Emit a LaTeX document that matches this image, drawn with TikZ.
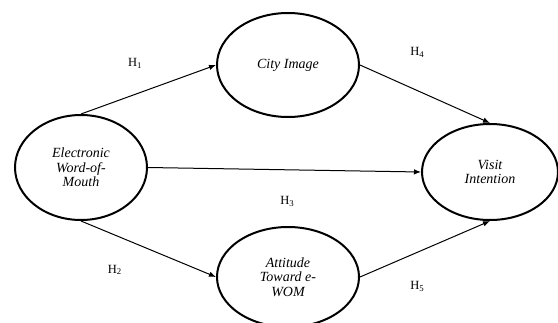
\documentclass[tikz,border=0pt]{standalone}
\usepackage{fontspec}
\setmainfont{Liberation Serif}
\usetikzlibrary{shapes.geometric,arrows.meta,positioning}

\begin{document}
\begin{tikzpicture}[x=1pt,y=-1pt,
        latent/.style = {
            draw,
            ellipse,
            line width=2pt,
            inner sep=0pt,
            align=center,
            font=\fontsize{14}{14.5}\selectfont\itshape
        },
        hlabel/.style = {font=\fontsize{12.5}{14}\selectfont},
        path/.style = {-{Latex[length=7pt,width=5.5pt]}, line width=1pt}]

        \useasboundingbox (0,0) rectangle (558,322);

        \node[latent, minimum width=132pt, minimum height=105pt] (ewom) at (81,167.5) {Electronic\\Word-of-\\Mouth};
        \node[latent, minimum width=142pt, minimum height=104pt] (city) at (288,65) {City Image};
        \node[latent, minimum width=142pt, minimum height=100pt] (att) at (288,277) {Attitude\\Toward e-\\WOM};
        \node[latent, minimum width=136pt, minimum height=96pt] (visit) at (490,172) {Visit\\Intention};

        \draw[path] (ewom.north) -- (city.west) node[hlabel, pos=0.4, above=22pt] {H\textsubscript{1}};
        \draw[path] (ewom.south) -- (att.west) node[hlabel, pos=0.25, below=26pt] {H\textsubscript{2}};
        \draw[path] (ewom.east) -- (visit.west) node[hlabel, pos=0.51, below=23pt] {H\textsubscript{3}};
        \draw[path] (city.east) -- (visit.north) node[hlabel, pos=0.44, above=29pt] {H\textsubscript{4}};
        \draw[path] (att.east) -- (visit.south) node[hlabel, pos=0.44, below=25pt] {H\textsubscript{5}};
    \end{tikzpicture}
\end{document}
